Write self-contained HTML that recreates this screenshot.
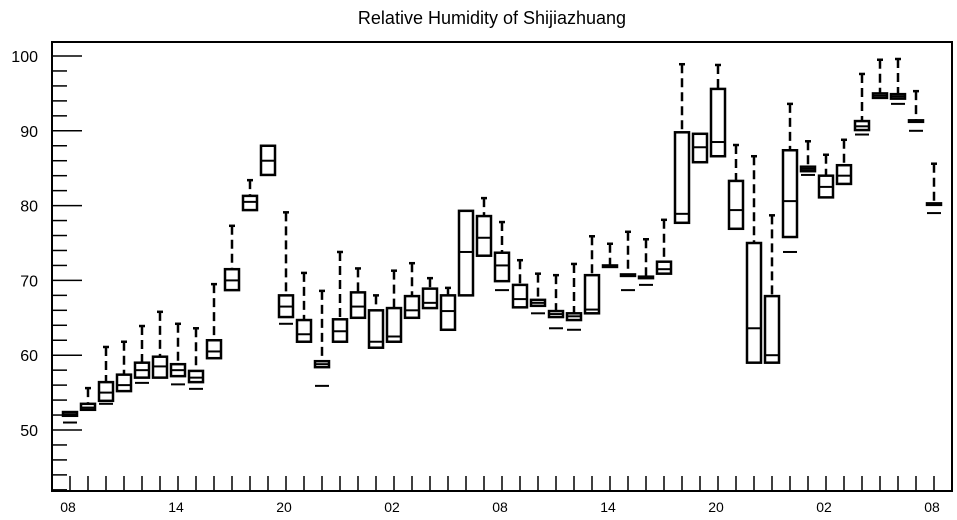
<!DOCTYPE html>
<html><head><meta charset="utf-8"><style>
html,body{margin:0;padding:0;background:#fff;}
svg{display:block;font-family:"Liberation Sans",sans-serif;}
</style></head><body>
<svg id="chart" width="957" height="520" viewBox="0 0 957 520">
<text x="492" y="24" font-size="18" text-anchor="middle">Relative Humidity of Shijiazhuang</text>
<rect x="52" y="42" width="900" height="449" fill="none" stroke="#000" stroke-width="2"/>
<g id="axes"></g><g id="marks"></g>
</svg>
<script>
const hours = [];
for (let i = 0; i < 49; i++) hours.push(i);
const q1  = [51.9,52.7,53.9,55.2,57.0,57.0,57.2,56.4,59.6,68.7,79.4,84.1,65.1,61.8,58.4,61.8,65.0,61.0,61.8,65.0,66.3,63.4,68.0,73.3,69.9,66.4,66.6,65.1,64.7,65.6,71.8,70.6,70.3,70.9,77.7,85.8,86.6,76.9,59.0,59.0,75.8,84.6,81.1,82.9,90.1,94.4,94.3,91.2,80.1];
const q3  = [52.4,53.5,56.4,57.4,59.0,59.8,58.8,57.9,62.0,71.5,81.3,88.0,68.0,64.7,59.2,64.8,68.4,66.0,66.3,67.9,68.9,68.0,79.3,78.6,73.7,69.4,67.4,65.9,65.6,70.7,72.0,70.8,70.5,72.5,89.8,89.6,95.6,83.3,75.0,67.9,87.4,85.2,84.0,85.4,91.3,95.0,94.9,91.4,80.3];
const med = [52.1,53.0,55.0,56.0,58.0,58.5,58.0,57.0,60.5,70.0,80.5,86.0,66.5,62.8,58.8,63.2,66.5,61.8,62.5,66.0,67.0,65.9,73.8,75.7,72.0,67.5,67.0,65.5,65.2,66.1,71.9,70.7,70.4,71.5,78.9,87.8,88.5,79.4,63.6,60.0,80.6,84.9,82.5,84.0,90.6,94.7,94.6,91.3,80.2];
const wmax= [52.4,55.6,61.1,61.8,63.9,65.8,64.2,63.6,69.5,77.3,83.4,88.0,79.1,71.0,68.6,73.8,71.6,68.0,71.3,72.3,70.3,69.0,79.3,81.0,77.8,72.7,70.9,70.7,72.2,75.9,74.9,76.5,75.5,78.1,98.9,89.6,98.8,88.1,86.6,78.7,93.6,88.6,86.8,88.8,97.6,99.5,99.6,95.3,85.6];
const wmin= [51.0,52.7,53.5,55.2,56.3,57.0,56.1,55.5,59.5,68.7,79.4,84.1,64.2,61.8,55.9,61.8,65.0,61.0,61.8,65.0,66.3,63.4,68.0,73.3,68.7,66.4,65.6,63.6,63.4,65.6,71.8,68.7,69.4,70.9,77.7,85.8,86.6,76.9,59.0,59.0,73.8,84.1,81.1,82.9,89.5,94.4,93.6,90.0,79.0];
const yTicks = [50,60,70,80,90,100];
const xLabels = ["08","14","20","02","08","14","20","02","08"];

const NS = "http://www.w3.org/2000/svg";
const X = h => 70 + 18 * h;
const Y = v => 430 - (v - 50) * 7.48;
function mk(tag, attrs, parent) {
  const e = document.createElementNS(NS, tag);
  for (const k in attrs) e.setAttribute(k, attrs[k]);
  parent.appendChild(e); return e;
}
const axes = document.getElementById('axes');
const marks = document.getElementById('marks');
// y ticks
for (let v = 42; v <= 101; v += 2) {
  const major = v % 10 === 0;
  const t = mk('line', {x1: 52, x2: major ? 82 : 67, y1: Y(v), y2: Y(v), stroke: '#000', 'stroke-width': 1.5}, axes);
  
  
}
yTicks.forEach(v => {
  const t = mk('text', {x: 38, y: Y(v) + 6, 'font-size': 16, 'text-anchor': 'end'}, axes);
  t.textContent = v;
  
  
});
// x ticks
hours.forEach(h => {
  const t = mk('line', {x1: X(h), x2: X(h), y1: 491, y2: 476, stroke: '#000', 'stroke-width': 1.5}, axes);
  
  
});
xLabels.forEach((s, i) => {
  const t = mk('text', {x: X(i * 6) - 2, y: 512, 'font-size': 14, 'text-anchor': 'middle'}, axes);
  t.textContent = s;
  
  
});
// candles
hours.forEach(h => {
  const g = mk('g', {}, marks);
  
  
  const cx = X(h), hw = 7;
  const top = Y(q3[h]), bot = Y(q1[h]);
  if (wmax[h] > q3[h] + 0.1) {
    mk('line', {x1: cx, x2: cx, y1: Y(wmax[h]), y2: top, stroke: '#000', 'stroke-width': 2.5, 'stroke-dasharray': '9,5'}, g);
    mk('line', {x1: cx - 3, x2: cx + 3, y1: Y(wmax[h]), y2: Y(wmax[h]), stroke: '#000', 'stroke-width': 2.5}, g);
  }
  if (wmin[h] < q1[h] - 0.1) {
    mk('line', {x1: cx - hw, x2: cx + hw, y1: Y(wmin[h]), y2: Y(wmin[h]), stroke: '#000', 'stroke-width': 2}, g);
  }
  mk('rect', {x: cx - hw, y: top, width: 2 * hw, height: Math.max(bot - top, 1), fill: 'none', stroke: '#000', 'stroke-width': 2.5}, g);
  mk('line', {x1: cx - hw, x2: cx + hw, y1: Y(med[h]), y2: Y(med[h]), stroke: '#000', 'stroke-width': 2}, g);
});
</script>
</body></html>
